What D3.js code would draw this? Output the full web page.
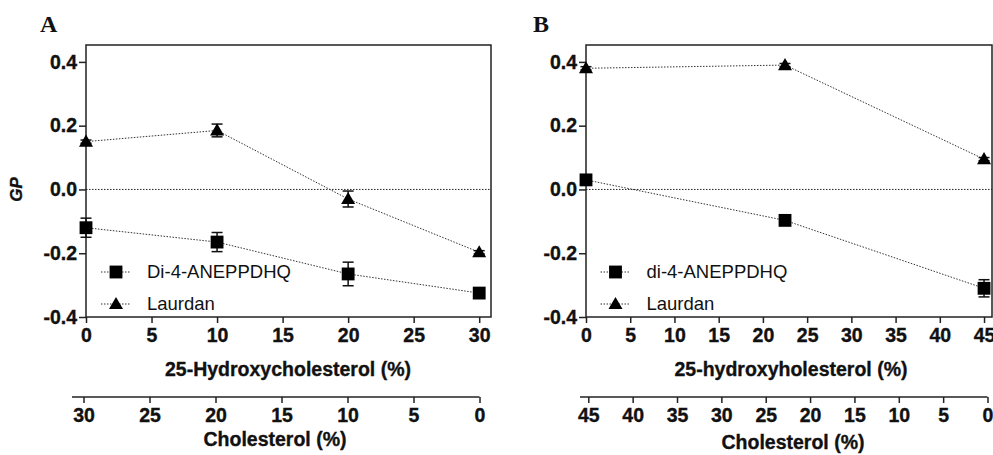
<!DOCTYPE html>
<meta charset="utf-8">
<script src="https://d3js.org/d3.v7.min.js"></script>
<style>
  body { margin: 0; background: #fff; }
  svg text { font-family: Arial, "Liberation Sans", Helvetica, sans-serif; fill: #111; }
  svg text.heavy { font-weight: bold; stroke: #111; stroke-width: 0.35px; }
</style>
<div id="chart"></div>
<script>
    // ---- data ----
    const hydroA = [0, 10, 20, 30];
    const di4A = [-0.12, -0.165, -0.265, -0.325];
    const di4AErr = [0.03, 0.03, 0.037, 0.006];
    const laurdanA = [0.15, 0.185, -0.03, -0.197];
    const laurdanAErr = [0.005, 0.02, 0.025, 0.005];

    const hydroB = [0, 22.5, 45];
    const di4B = [0.03, -0.097, -0.31];
    const di4BErr = [0.006, 0.008, 0.027];
    const laurdanB = [0.38, 0.39, 0.095];
    const laurdanBErr = [0.005, 0.005, 0.005];

    const yTicks = [-0.4, -0.2, 0.0, 0.2, 0.4];
    const xTicksA = [0, 5, 10, 15, 20, 25, 30];
    const xTicksB = [0, 5, 10, 15, 20, 25, 30, 35, 40, 45];

    const svg = d3.select("#chart")
        .append("svg")
        .attr("width", 993)
        .attr("height", 455);

    const plotTop = 45, plotBottom = 317;

    const panels = [
        {
            letter: "A", letterX: 40,
            left: 86, right: 491, xMax: 30.9, ticks: xTicksA,
            cholRange: [83.5, 479.5], cholMax: 30, cholLine: [72, 479.5],
            xTitle: "25-Hydroxycholesterol (%)", xTitleX: 288, cholTitleX: 275, cholTitleY: 446,
            di4Name: "Di-4-ANEPPDHQ", legendX: 116,
            x: hydroA, di4: di4A, di4Err: di4AErr, lau: laurdanA, lauErr: laurdanAErr,
            showGP: true
        },
        {
            letter: "B", letterX: 533,
            left: 586, right: 992, xMax: 45.9, ticks: xTicksB,
            cholRange: [588.3, 987.5], cholMax: 45, cholLine: [580, 987.5],
            xTitle: "25-hydroxyholesterol (%)", xTitleX: 791, cholTitleX: 793, cholTitleY: 449,
            di4Name: "di-4-ANEPPDHQ", legendX: 615.5,
            x: hydroB, di4: di4B, di4Err: di4BErr, lau: laurdanB, lauErr: laurdanBErr,
            showGP: false
        }
    ];

    const square = d3.symbol().type(d3.symbolSquare).size(165);
    const triangle = d3.symbol().type(d3.symbolTriangle).size(85);

    panels.forEach(function (p) {
        const g = svg.append("g");

        const x = d3.scaleLinear().domain([0, p.xMax]).range([p.left, p.right]);
        const y = d3.scaleLinear().domain([-0.4, 0.453]).range([plotBottom, plotTop]);

        // panel letter
        g.append("text")
            .attr("x", p.letterX).attr("y", 32)
            .style("font-family", "'Times New Roman', 'Liberation Serif', serif")
            .style("font-weight", "bold").style("font-size", "24px")
            .text(p.letter);

        // zero line
        g.append("line")
            .attr("x1", p.left).attr("x2", p.right)
            .attr("y1", y(0)).attr("y2", y(0))
            .attr("stroke", "#222").attr("stroke-width", 1)
            .attr("stroke-dasharray", "1.5,1.5");

        // y axis
        const yAxis = g.append("g")
            .attr("transform", `translate(${p.left},0)`)
            .call(d3.axisLeft(y).tickValues(yTicks).tickSize(7).tickPadding(2)
                .tickFormat(function (d) { return d.toFixed(1); }));
        // x axis
        const xAxis = g.append("g")
            .attr("transform", `translate(0,${plotBottom})`)
            .call(d3.axisBottom(x).tickValues(p.ticks).tickSize(6).tickPadding(5));

        [yAxis, xAxis].forEach(function (a) {
            a.select(".domain").remove();
            a.selectAll(".tick line").attr("stroke", "#222").attr("stroke-width", 1.5);
            a.selectAll("text").attr("class", "heavy").style("font-size", "19.5px");
        });

        // frame
        g.append("rect")
            .attr("x", p.left).attr("y", plotTop)
            .attr("width", p.right - p.left).attr("height", plotBottom - plotTop)
            .attr("fill", "none").attr("stroke", "#222").attr("stroke-width", 1.5);

        // series
        const series = [
            { vals: p.di4, errs: p.di4Err, sym: square },
            { vals: p.lau, errs: p.lauErr, sym: triangle }
        ];
        const line = d3.line()
            .x(function (d) { return x(d[0]); })
            .y(function (d) { return y(d[1]); });

        series.forEach(function (s) {
            const pts = p.x.map(function (xv, i) { return [xv, s.vals[i], s.errs[i]]; });
            g.append("path")
                .datum(pts)
                .attr("fill", "none")
                .attr("stroke", "#333").attr("stroke-width", 1)
                .attr("stroke-dasharray", "1.5,1.5")
                .attr("d", line);

            // error bars
            const eb = g.selectAll(null).data(pts).enter().append("g");
            eb.append("line")
                .attr("x1", function (d) { return x(d[0]); })
                .attr("x2", function (d) { return x(d[0]); })
                .attr("y1", function (d) { return y(d[1] - d[2]); })
                .attr("y2", function (d) { return y(d[1] + d[2]); })
                .attr("stroke", "#111").attr("stroke-width", 1.5);
            [-1, 1].forEach(function (sgn) {
                eb.append("line")
                    .attr("x1", function (d) { return x(d[0]) - 5.5; })
                    .attr("x2", function (d) { return x(d[0]) + 5.5; })
                    .attr("y1", function (d) { return y(d[1] + sgn * d[2]); })
                    .attr("y2", function (d) { return y(d[1] + sgn * d[2]); })
                    .attr("stroke", "#111").attr("stroke-width", 1.5);
            });

            g.selectAll(null).data(pts).enter().append("path")
                .attr("d", s.sym)
                .attr("transform", function (d) {
                    const dy = s.sym === triangle ? 1 : 0;
                    return `translate(${x(d[0])},${y(d[1]) + dy})`;
                })
                .attr("fill", "#000");
        });

        // legend
        const legend = [
            { name: p.di4Name, sym: square, yy: 272 },
            { name: "Laurdan", sym: triangle, yy: 304 }
        ];
        legend.forEach(function (l) {
            g.append("line")
                .attr("x1", p.legendX - 15).attr("x2", p.legendX + 14)
                .attr("y1", l.yy).attr("y2", l.yy)
                .attr("stroke", "#333").attr("stroke-width", 1)
                .attr("stroke-dasharray", "1.5,1.5");
            g.append("path")
                .attr("d", l.sym)
                .attr("transform", `translate(${p.legendX},${l.yy + (l.sym === triangle ? 1 : 0)})`)
                .attr("fill", "#000");
            g.append("text")
                .attr("x", p.legendX + 31).attr("y", l.yy)
                .attr("dy", "0.35em")
                .style("font-size", "18.5px")
                .text(l.name);
        });

        // x axis title
        g.append("text")
            .attr("class", "heavy")
            .attr("x", p.xTitleX).attr("y", 376)
            .attr("text-anchor", "middle")
            .style("font-size", "19.5px")
            .text(p.xTitle);

        // cholesterol axis
        const xc = d3.scaleLinear().domain([p.cholMax, 0]).range(p.cholRange);
        const cAxis = g.append("g")
            .attr("transform", "translate(0,397)")
            .call(d3.axisBottom(xc).tickValues(p.ticks).tickSize(6).tickPadding(5));
        cAxis.select(".domain").remove();
        cAxis.selectAll(".tick line").attr("stroke", "#222").attr("stroke-width", 1.5);
        cAxis.selectAll("text").attr("class", "heavy").style("font-size", "19.5px");
        g.append("line")
            .attr("x1", p.cholLine[0]).attr("x2", p.cholLine[1])
            .attr("y1", 397).attr("y2", 397)
            .attr("stroke", "#222").attr("stroke-width", 1.5);

        g.append("text")
            .attr("class", "heavy")
            .attr("x", p.cholTitleX).attr("y", p.cholTitleY)
            .attr("text-anchor", "middle")
            .style("font-size", "19.5px")
            .text("Cholesterol (%)");

        if (p.showGP) {
            g.append("text")
                .attr("class", "heavy")
                .attr("transform", `translate(22,${y(0)}) rotate(-90)`)
                .attr("text-anchor", "middle")
                .style("font-size", "17px")
                .style("font-style", "italic")
                .text("GP");
        }
    });
</script>
